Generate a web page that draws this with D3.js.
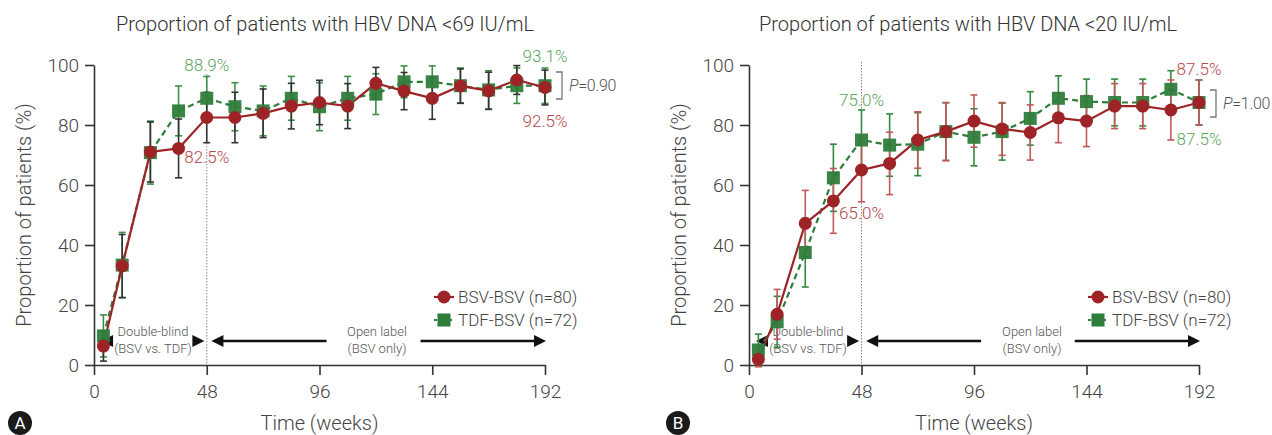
<!DOCTYPE html>
<html><head><meta charset="utf-8">
<script src="https://cdn.jsdelivr.net/npm/d3@7"></script>
<style>
body{margin:0;background:#fff;}
svg text{font-family:Roboto,"Noto Sans",sans-serif;}
</style></head>
<body><svg id="c" width="1272" height="435"></svg>
<script>
// ---- data ----
const weeks = [4,12,24,36,48,60,72,84,96,108,120,132,144,156,168,180,192];
const xTicks = [0,48,96,144,192];
const yTicks = [0,20,40,60,80,100];
const seriesNames = ["BSV-BSV (n=80)","TDF-BSV (n=72)"];
const titles = ["Proportion of patients with HBV DNA <69 IU/mL","Proportion of patients with HBV DNA <20 IU/mL"];
const panelLetters = ["A","B"];
const pValues = ["=0.90","=1.00"];

const A_bsv    = [6.3,33.0,71.0,72.2,82.5,82.5,83.9,86.3,87.5,86.3,93.9,91.3,88.9,93.0,91.4,95.0,92.5];
const A_bsvErr = [5.0,10.5,10.0,9.8,8.4,8.4,8.1,7.6,7.4,7.5,5.3,6.2,7.0,5.7,6.2,4.8,5.8];
const A_tdf    = [9.7,33.3,70.8,84.7,88.9,86.1,84.7,88.9,86.1,88.9,90.3,94.4,94.4,93.1,91.7,93.1,93.1];
const A_tdfErr = [7.0,10.9,10.5,8.3,7.3,8.0,8.3,7.3,8.0,7.3,6.8,5.3,5.3,5.9,6.4,5.9,5.9];

const B_bsv    = [1.9,16.9,47.2,54.7,65.0,67.2,75.0,77.8,81.3,78.7,77.5,82.4,81.3,86.3,86.3,85.0,87.5];
const B_bsvErr = [2.5,8.3,11.0,10.8,10.6,10.4,9.4,9.7,8.7,8.8,9.2,8.3,8.5,7.5,7.5,10.0,7.5];
const B_tdf    = [5.0,14.4,37.5,62.4,75.0,73.3,73.6,77.8,75.9,77.8,82.2,88.9,87.8,87.5,87.5,91.9,87.5];
const B_tdfErr = [5.3,8.5,11.5,11.2,10.0,10.4,10.5,9.6,9.5,9.5,8.9,7.5,7.5,7.8,7.8,6.2,7.5];

// highlighted labels: [week, value, series, position]
const A_labels = [[48,88.9,"tdf","above"],[48,82.5,"bsv","below"],[192,93.1,"tdf","above"],[192,92.5,"bsv","below"]];
const B_labels = [[48,75.0,"tdf","above"],[48,65.0,"bsv","below"],[192,87.5,"bsv","above"],[192,87.5,"tdf","below"]];

// ---- styles ----
const RED = "#9e2327", GREEN = "#2f7d3b";
const RED_TXT = "#b5474b", GREEN_TXT = "#5aa460";

const svg = d3.select("#c");

const panels = [
  {x0:94,x1:545,bsv:A_bsv,bsvErr:A_bsvErr,tdf:A_tdf,tdfErr:A_tdfErr,labels:A_labels,
   bsvBar:"#333",tdfBar:"#3d8f47",legX:444,title:titles[0],titleX:325,letter:panelLetters[0],letX:20,
   p:pValues[0],blindX:153,openX:377,
   off:{"48above":-27,"48below":45,"192above":-24,"192below":39}},
  {x0:749,x1:1199,bsv:B_bsv,bsvErr:B_bsvErr,tdf:B_tdf,tdfErr:B_tdfErr,labels:B_labels,
   bsvBar:"#c2585b",tdfBar:"#2f8a3c",legX:1098,title:titles[1],titleX:968,letter:panelLetters[1],letX:678,
   p:pValues[1],blindX:808,openX:1032,
   off:{"48above":-34,"48below":49,"192above":-28,"192below":42}}
];

panels.forEach((P,pi)=>{
  const g = svg.append("g");
  const x = d3.scaleLinear().domain([0,192]).range([P.x0,P.x1]);
  const y = d3.scaleLinear().domain([0,100]).range([365,65]);

  // title
  g.append("text").attr("x",P.titleX).attr("y",31).attr("text-anchor","middle")
    .style("font-size","20px").style("font-weight",300).attr("fill","#333").text(P.title);

  // axes
  const xa = g.append("g").attr("transform","translate(0,365)")
    .call(d3.axisBottom(x).tickValues(xTicks).tickSize(10).tickSizeOuter(0).tickPadding(6));
  const ya = g.append("g").attr("transform",`translate(${P.x0},0)`)
    .call(d3.axisLeft(y).tickValues(yTicks).tickSize(9).tickSizeOuter(0).tickPadding(6));
  [xa,ya].forEach(a=>{
    a.selectAll("path,line").attr("stroke","#333").attr("stroke-width",1.6);
    a.selectAll("text").style("font-size","19px").style("font-weight",300).attr("fill","#444");
  });
  xa.selectAll("text").attr("dy","0.9em");
  ya.selectAll("text").attr("dy","0.35em");

  g.append("text").attr("transform",`translate(${P.x0-70},${y(50)}) rotate(-90)`)
    .attr("text-anchor","middle").attr("dy","0.35em").style("font-size","20px").style("font-weight",300)
    .attr("fill","#444").text("Proportion of patients (%)");
  g.append("text").attr("x",(P.x0+P.x1)/2).attr("y",430).attr("text-anchor","middle")
    .style("font-size","20px").style("font-weight",300).attr("fill","#444").text("Time (weeks)");

  // panel letter
  g.append("circle").attr("cx",P.letX).attr("cy",423).attr("r",12).attr("fill","#1a1a1a");
  g.append("text").attr("x",P.letX).attr("y",423).attr("dy","0.36em").attr("text-anchor","middle")
    .style("font-size","17px").attr("fill","#fff").text(P.letter);

  // dotted vertical line at 48
  g.append("line").attr("x1",x(48)).attr("x2",x(48)).attr("y1",pi===0?74:62).attr("y2",365)
    .attr("stroke","#888").attr("stroke-width",1).attr("stroke-dasharray","1.5,1.5");

  // phase annotations
  const ay = 341;
  const tri = (cx,dir)=>{
    const w=12,h=6;
    const pts = dir<0 ? [[cx,ay],[cx+w,ay-h],[cx+w,ay+h]] : [[cx,ay],[cx-w,ay-h],[cx-w,ay+h]];
    g.append("path").attr("d",d3.line()(pts)+"Z").attr("fill","#111");
  };
  tri(x(3),-1); tri(x(47),1);
  const note = (tx,ty,t)=>g.append("text").attr("x",tx).attr("y",ty).attr("text-anchor","middle")
    .style("font-size","13px").style("font-weight",300).attr("fill","#555").text(t);
  note(P.blindX,336,"Double-blind"); note(P.blindX,353,"(BSV vs. TDF)");
  note(P.openX,336,"Open label"); note(P.openX,353,"(BSV only)");
  tri(x(50),-1);
  g.append("line").attr("x1",x(50)+10).attr("x2",x(99)).attr("y1",ay).attr("y2",ay).attr("stroke","#111").attr("stroke-width",2.5);
  g.append("line").attr("x1",x(139)).attr("x2",x(192)-10).attr("y1",ay).attr("y2",ay).attr("stroke","#111").attr("stroke-width",2.5);
  tri(x(192)+1,1);

  // series
  const series = [
    {v:P.tdf,e:P.tdfErr,col:GREEN,bar:P.tdfBar,dash:"6,4",shape:"sq"},
    {v:P.bsv,e:P.bsvErr,col:RED,bar:P.bsvBar,dash:null,shape:"ci"}
  ];
  series.forEach(s=>{
    const eb = g.append("g");
    weeks.forEach((w,i)=>{
      const cx=x(w), lo=y(s.v[i]-s.e[i]), hi=y(Math.min(100,s.v[i]+s.e[i]));
      eb.append("line").attr("x1",cx).attr("x2",cx).attr("y1",lo).attr("y2",hi).attr("stroke",s.bar).attr("stroke-width",1.6);
      [lo,hi].forEach(yy=>eb.append("line").attr("x1",cx-3.5).attr("x2",cx+3.5).attr("y1",yy).attr("y2",yy).attr("stroke",s.bar).attr("stroke-width",1.6));
    });
  });
  series.forEach(s=>{
    const line = d3.line().x((d,i)=>x(weeks[i])).y(d=>y(d));
    const p = g.append("path").attr("d",line(s.v)).attr("fill","none").attr("stroke",s.col).attr("stroke-width",2.2);
    if(s.dash) p.attr("stroke-dasharray",s.dash);
  });
  series.forEach(s=>{
    weeks.forEach((w,i)=>{
      if(s.shape==="sq") g.append("rect").attr("x",x(w)-6.5).attr("y",y(s.v[i])-6.5).attr("width",13).attr("height",13).attr("fill",s.col).attr("fill-opacity",0.95);
      else g.append("circle").attr("cx",x(w)).attr("cy",y(s.v[i])).attr("r",6.5).attr("fill",s.col);
    });
  });

  // value labels
  P.labels.forEach(([w,v,s,pos])=>{
    const yv = y(v) + P.off[w+pos];
    g.append("text").attr("x",x(w)).attr("y",yv).attr("text-anchor","middle").style("font-size","17px").style("font-weight",300)
      .attr("fill",s==="bsv"?RED_TXT:GREEN_TXT).text(v.toFixed(1)+"%");
  });

  // P bracket
  const bx = x(192)+11, ytop = pi===0?72:90, ybot = pi===0?99:117;
  g.append("path").attr("d",`M${bx},${ytop}H${bx+6}V${ybot}H${bx}`).attr("fill","none").attr("stroke","#777").attr("stroke-width",1.3);
  const pt = g.append("text").attr("x",bx+13).attr("y",(ytop+ybot)/2).attr("dy","0.35em")
    .style("font-size","16px").style("font-weight",300).style("letter-spacing","-0.3px").attr("fill","#555");
  pt.append("tspan").style("font-style","italic").text("P");
  pt.append("tspan").text(P.p);

  // legend
  const ly = [297,320];
  const lg = g.append("g");
  lg.append("line").attr("x1",P.legX-10).attr("x2",P.legX+10).attr("y1",ly[0]).attr("y2",ly[0]).attr("stroke",RED).attr("stroke-width",2.2);
  lg.append("circle").attr("cx",P.legX).attr("cy",ly[0]).attr("r",6.5).attr("fill",RED);
  lg.append("line").attr("x1",P.legX-10).attr("x2",P.legX+10).attr("y1",ly[1]).attr("y2",ly[1]).attr("stroke",GREEN).attr("stroke-width",2.2).attr("stroke-dasharray","3,2");
  lg.append("rect").attr("x",P.legX-6.5).attr("y",ly[1]-6.5).attr("width",13).attr("height",13).attr("fill",GREEN);
  seriesNames.forEach((n,i)=>lg.append("text").attr("x",P.legX+14).attr("y",ly[i]).attr("dy","0.35em")
    .style("font-size","17px").style("font-weight",300).attr("fill","#444").text(n));
});
</script></body></html>
